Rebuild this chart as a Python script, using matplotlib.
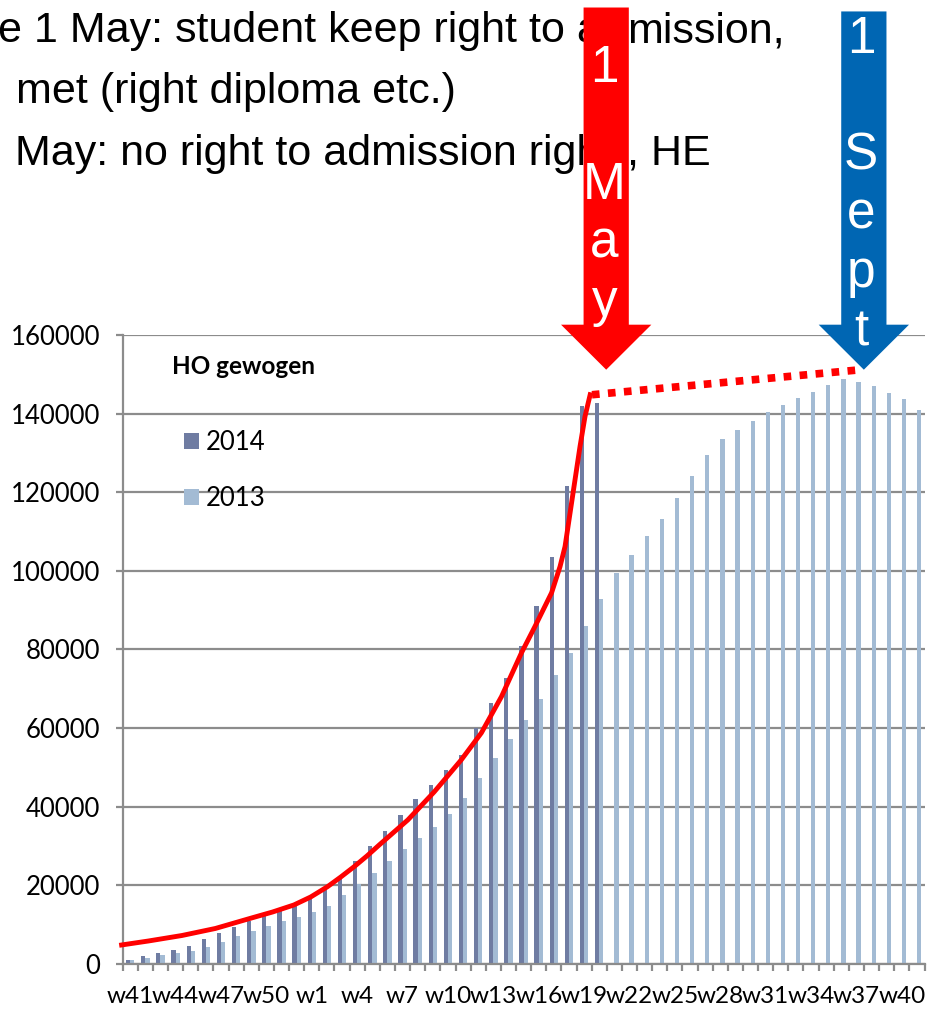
import numpy as np
import matplotlib.pyplot as plt
from matplotlib.patches import FancyArrow

plt.rcParams['font.family'] = ['Lato', 'DejaVu Sans']

# weeks w41..w52 then w1..w41
weeks = ['w%d' % w for w in list(range(41, 53)) + list(range(1, 42))]

hits_2014 = [1100, 2100, 2800, 3500, 4600, 6300, 7900, 9500, 11000, 12500,
             13700, 15300, 17000, 19300, 22200, 26200, 29900, 33900, 37900, 41900,
             45600, 49400, 53200, 60000, 66400, 72700, 80900, 91100, 103500, 121700,
             142000, 142700]

hits_2013 = [1000, 1500, 2200, 2800, 3300, 4400, 5700, 7000, 8300, 9700,
             10900, 12000, 13100, 14800, 17600, 20300, 23100, 26300, 29300, 32000,
             34800, 38100, 42200, 47300, 52400, 57300, 62100, 67400, 73600, 79100,
             86000, 92800, 99400, 104000, 108800, 113300, 118500, 124200, 129500, 133500,
             135800, 138100, 140500, 142300, 144000, 145600, 147300, 148900, 148000, 146900,
             145300, 143800, 140800]

# hand drawn red trend curve and its dotted extension (week index, value)
trend_x = [-0.57, 1.20, 3.42, 5.63, 7.95, 9.41, 10.82, 11.93, 13.04, 13.92,
           14.80, 15.65, 16.46, 18.35, 20.09, 21.88, 23.21, 24.54, 25.86, 26.75,
           27.85, 28.41, 28.74, 29.07, 29.40, 29.73, 30.06, 30.40]
trend_y = [4840, 5850, 7250, 9040, 11630, 13230, 15020, 17050, 19670, 22140,
           24760, 27490, 30290, 36650, 43770, 51920, 58790, 68030, 79150, 85840,
           94420, 101110, 106200, 114700, 123180, 131650, 139290, 144810]
extra_x = [30.52, 48.39]
extra_y = [144800, 151200]

fig = plt.figure(figsize=(9.3, 10.09), dpi=100)
ax = fig.add_axes([0.1319, 0.0446, 0.8622, 0.6234])

x = np.arange(len(weeks))
b14 = ax.bar(x[:len(hits_2014)] - 0.14, hits_2014, 0.28, color='#6F7CA2', label='2014', zorder=2)
b13 = ax.bar(x + 0.14, hits_2013, 0.28, color='#A3BBD4', label='2013', zorder=2)

ax.set_xlim(-0.5, len(weeks) - 0.5)
ax.set_ylim(0, 160000)
ax.set_yticks(np.arange(0, 160001, 20000))
ax.set_axisbelow(True)
ax.yaxis.grid(True, color='#8C8C8C', lw=1.6)
for s in ['top', 'right']:
    ax.spines[s].set_visible(False)
for s in ['left', 'bottom']:
    ax.spines[s].set_color('#8C8C8C')
    ax.spines[s].set_linewidth(1.6)

ax.set_xticks(np.arange(-0.5, len(weeks), 1))
ax.set_xticklabels([])
ax.set_xticks(x[::3], [weeks[i] for i in x[::3]], minor=True)
ax.tick_params(axis='x', which='major', length=5, width=1.6, color='#8C8C8C')
ax.tick_params(axis='x', which='minor', length=0, pad=16, labelsize=17.5)
ax.tick_params(axis='y', length=5, width=1.6, color='#8C8C8C', pad=11, labelsize=18.5)

ax.plot(trend_x, trend_y, color='red', lw=3.5, zorder=4, clip_on=False,
        solid_joinstyle='round')
ax.plot(extra_x, extra_y, color='red', lw=5.5, linestyle=(0, (1, 1.1)),
        dash_capstyle='butt', zorder=4)

# text above the chart (partly hidden by the arrows)
top_parts = [('e 1 May: student keep right to ad', -2, 42),
             ('mission,', 627, 42),
             (' met (right diploma etc.)', 4, 103),
             ('May: no right to admission right', 15, 165),
             (', HE', 627, 165)]
for txt, xp, yp in top_parts:
    ax.text(xp / 930, 1 - yp / 1009, txt, transform=fig.transFigure, fontsize=31,
            family='Liberation Sans', va='baseline', ha='left', zorder=1)

# arrows for 1 May and 1 Sept
for xc, top, col, label, ty in [(31.46, 243300, '#FF0000', '1\n\nM\na\ny', 44),
                                (48.49, 242300, '#0066B3', '1\n\nS\ne\np\nt', 15)]:
    ax.add_patch(FancyArrow(xc, top, 0, 151170 - top, width=2.99, head_width=5.97,
                            head_length=11450, length_includes_head=True,
                            color=col, lw=0, clip_on=False, zorder=5))
    xf = (122.7 + (xc + 0.5) * 15.07) / 930
    ax.text(xf, 1 - ty / 1009, label, transform=fig.transFigure, color='white',
            fontsize=37, family='Liberation Sans', ha='center', va='top',
            multialignment='center', linespacing=1.25, zorder=6)

ax.text(172 / 930, 1 - 366 / 1009, 'HO gewogen', transform=fig.transFigure,
        fontsize=17.5, fontweight='bold', va='center', ha='left')
ax.legend(handles=[b14, b13], loc='upper left', bbox_to_anchor=(184 / 930, 1 - 430 / 1009),
          bbox_transform=fig.transFigure, frameon=False, fontsize=18.5,
          handlelength=0.6, handleheight=0.6, handletextpad=0.25,
          labelspacing=1.2, borderpad=0, borderaxespad=0)

fig.savefig('out.png', dpi=100)
